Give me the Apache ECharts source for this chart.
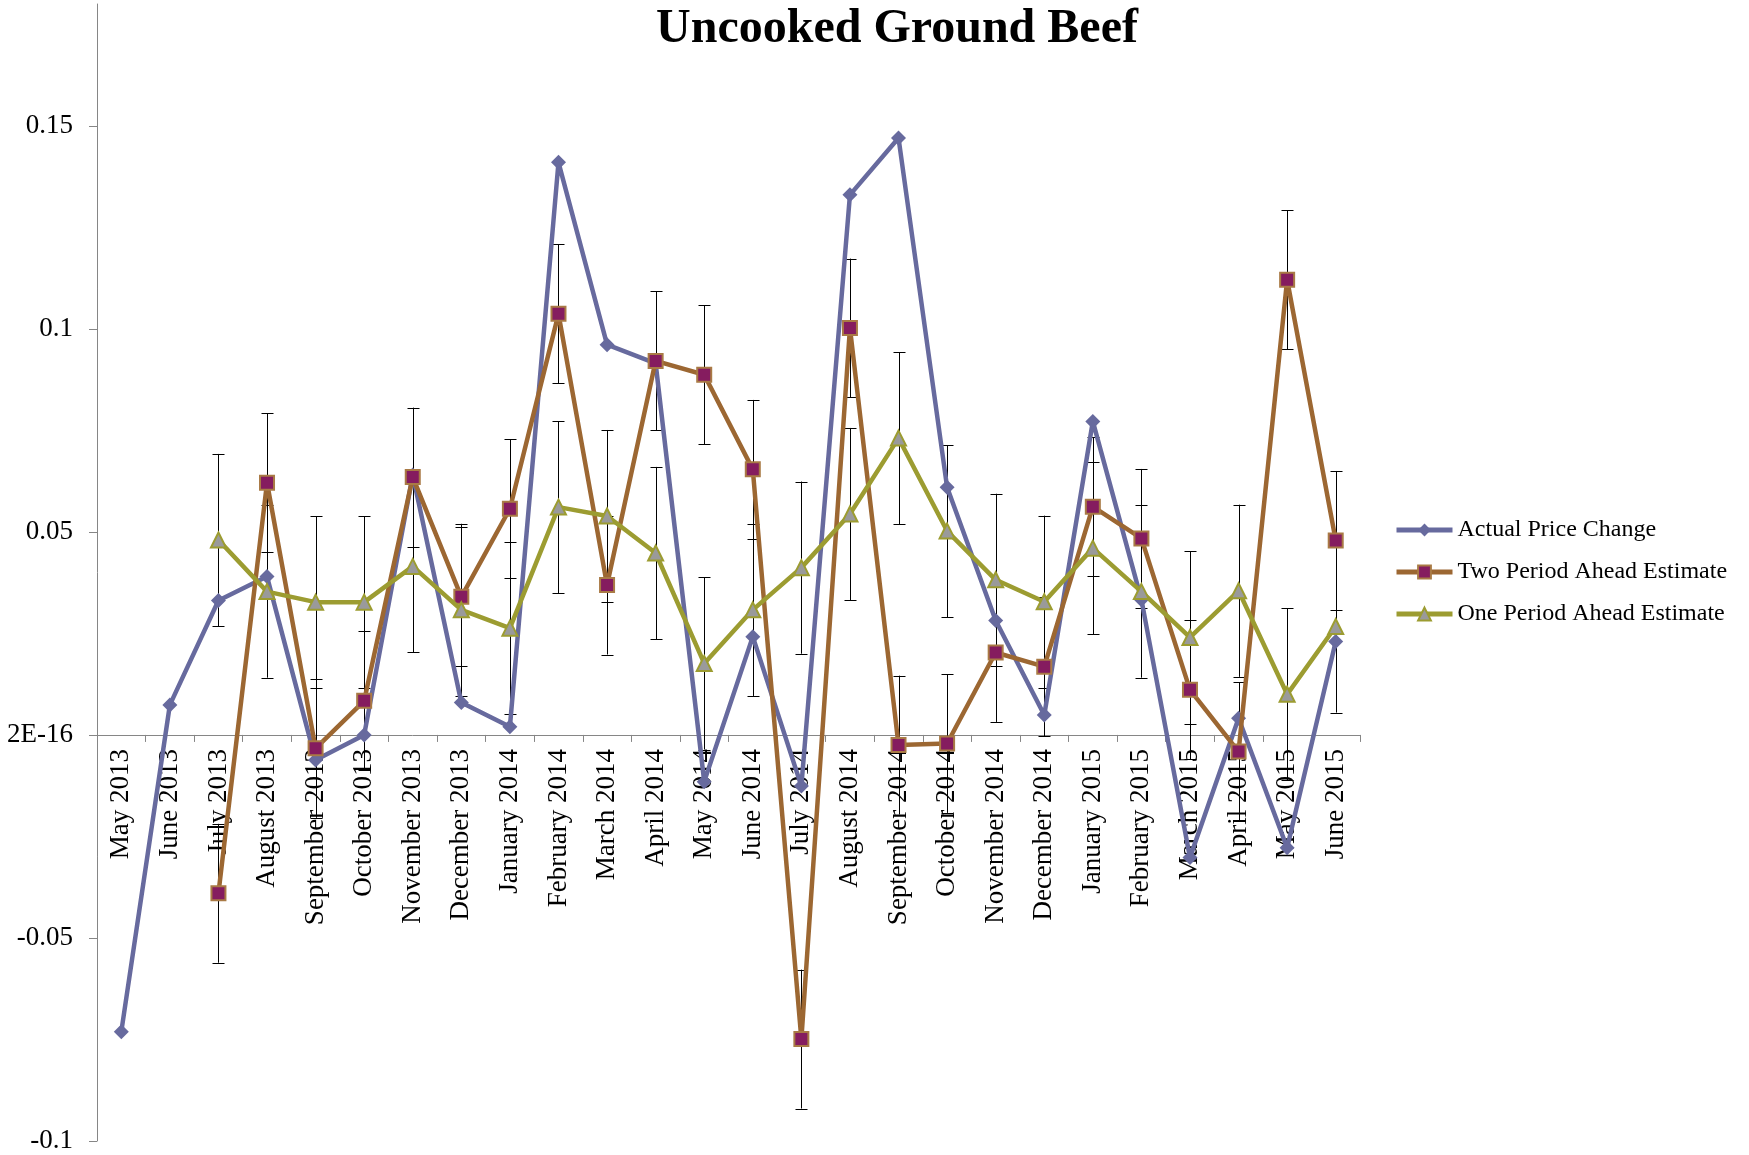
<!DOCTYPE html>
<html>
<head>
<meta charset="utf-8">
<script src="https://cdn.jsdelivr.net/npm/echarts@6/dist/echarts.min.js"></script>
<style>
  html, body { margin: 0; padding: 0; background: #fff; }
  #chart { width: 1749px; height: 1155px; }
</style>
</head>
<body>
<div id="chart"></div>
<script>
// ---- Data ----
const categories = [
  'May 2013','June 2013','July 2013','August 2013','September 2013','October 2013',
  'November 2013','December 2013','January 2014','February 2014','March 2014','April 2014',
  'May 2014','June 2014','July 2014','August 2014','September 2014','October 2014',
  'November 2014','December 2014','January 2015','February 2015','March 2015','April 2015',
  'May 2015','June 2015'
];

const actualPriceChange = [
  -0.0731, 0.0074, 0.0331, 0.0390, -0.0062, 0.0000,
  0.0640, 0.0080, 0.0020, 0.1410, 0.0961, 0.0915,
  -0.0115, 0.0242, -0.0126, 0.1330, 0.1470, 0.0610,
  0.0282, 0.0049, 0.0772, 0.0333, -0.0302, 0.0041,
  -0.0278, 0.0230
];

const twoPeriodAhead = [
  null, null, -0.0390, 0.0621, -0.0033, 0.0084,
  0.0635, 0.0340, 0.0557, 0.1037, 0.0369, 0.0921,
  0.0887, 0.0654, -0.0749, 0.1002, -0.0025, -0.0021,
  0.0203, 0.0168, 0.0562, 0.0484, 0.0111, -0.0041,
  0.1121, 0.0479
];

const onePeriodAhead = [
  null, null, 0.0480, 0.0353, 0.0327, 0.0327,
  0.0415, 0.0308, 0.0263, 0.0561, 0.0539, 0.0448,
  0.0176, 0.0308, 0.0412, 0.0544, 0.0731, 0.0502,
  0.0382, 0.0328, 0.0460, 0.0353, 0.0240, 0.0355,
  0.0100, 0.0267
];

// error bar half-widths (constant in the reference)
const twoPeriodError = 0.0171;
const onePeriodError = 0.0212;

const yTicks = [-0.1, -0.05, 0, 0.05, 0.1, 0.15];
const yMin = -0.1;
const yMax = 0.18;

// ---- Build chart ----
const FONT = "'Liberation Serif', 'Times New Roman', serif";
const W = 1749, H = 1155;
const gridTop = 4, gridBottom = 14;
const plotH = H - gridTop - gridBottom;
// place the category axis at value 0 (as in the reference)
const xAxisOffset = -((0 - yMin) / (yMax - yMin)) * plotH;

function errData(values, err) {
  const out = [];
  values.forEach((v, i) => {
    if (v !== null) out.push([i, v - err, v + err]);
  });
  return out;
}

function renderErr(params, api) {
  const lo = api.coord([api.value(0), api.value(1)]);
  const hi = api.coord([api.value(0), api.value(2)]);
  const x = Math.round(lo[0]) + 0.5;
  const hw = 6;
  const st = { stroke: '#000', lineWidth: 1 };
  return {
    type: 'group',
    children: [
      { type: 'line', shape: { x1: x, y1: lo[1], x2: x, y2: hi[1] }, style: st },
      { type: 'line', shape: { x1: x - hw, y1: Math.round(lo[1]) + 0.5, x2: x + hw, y2: Math.round(lo[1]) + 0.5 }, style: st },
      { type: 'line', shape: { x1: x - hw, y1: Math.round(hi[1]) + 0.5, x2: x + hw, y2: Math.round(hi[1]) + 0.5 }, style: st }
    ]
  };
}

const chart = echarts.init(document.getElementById('chart'), null, { renderer: 'canvas' });

chart.setOption({
  animation: false,
  backgroundColor: '#ffffff',
  title: {
    text: 'Uncooked Ground Beef',
    left: 897,
    textAlign: 'center',
    top: 6,
    padding: 0,
    textStyle: { fontFamily: FONT, fontSize: 48, fontWeight: 'bold', color: '#000' }
  },
  legend: {
    orient: 'vertical',
    left: 1389,
    top: 513,
    itemWidth: 56,
    itemHeight: 16,
    itemGap: 18,
    lineStyle: { width: 5 },
    data: ['Actual Price Change', 'Two Period Ahead Estimate', 'One Period Ahead Estimate'],
    textStyle: { fontFamily: FONT, fontSize: 24, color: '#000' }
  },
  grid: { left: 97, right: 389, top: gridTop, bottom: gridBottom, containLabel: false, outerBoundsMode: 'none' },
  xAxis: {
    type: 'category',
    data: categories,
    boundaryGap: true,
    position: 'bottom',
    offset: xAxisOffset,
    axisLine: { onZero: false, lineStyle: { color: '#868686', width: 1 } },
    axisTick: { show: true, length: 7, inside: false, lineStyle: { color: '#868686' } },
    axisLabel: {
      rotate: 90, interval: 0, margin: 14,
      fontFamily: FONT, fontSize: 27, color: '#000'
    },
    splitLine: { show: false }
  },
  yAxis: {
    type: 'value',
    min: yMin,
    max: yMax,
    interval: 0.05,
    axisLine: { show: true, lineStyle: { color: '#868686', width: 1 } },
    axisTick: { show: true, length: 8, lineStyle: { color: '#868686' }, customValues: yTicks },
    axisLabel: {
      margin: 24,
      fontFamily: FONT, fontSize: 27, color: '#000',
      customValues: yTicks,
      formatter: function (v) {
        if (Math.abs(v) < 1e-9) return '2E-16';
        return String(Math.round(v * 1000) / 1000);
      }
    },
    splitLine: { show: false }
  },
  series: [
    {
      name: 'err2', type: 'custom', z: 1, silent: true,
      renderItem: renderErr,
      encode: { x: 0, y: [1, 2] },
      data: errData(twoPeriodAhead, twoPeriodError)
    },
    {
      name: 'err1', type: 'custom', z: 1, silent: true,
      renderItem: renderErr,
      encode: { x: 0, y: [1, 2] },
      data: errData(onePeriodAhead, onePeriodError)
    },
    {
      name: 'Actual Price Change',
      type: 'line', z: 2,
      data: actualPriceChange,
      symbol: 'diamond',
      symbolSize: 15,
      showAllSymbol: true,
      lineStyle: { color: '#676a9e', width: 4.5 },
      itemStyle: { color: '#676a9e', borderWidth: 0 }
    },
    {
      name: 'Two Period Ahead Estimate',
      type: 'line', z: 3,
      data: twoPeriodAhead,
      symbol: 'rect',
      symbolSize: 14,
      showAllSymbol: true,
      lineStyle: { color: '#9c6732', width: 4.5 },
      itemStyle: { color: '#851c5f', borderColor: '#a97a45', borderWidth: 2 }
    },
    {
      name: 'One Period Ahead Estimate',
      type: 'line', z: 4,
      data: onePeriodAhead,
      symbol: 'triangle',
      symbolSize: 15,
      showAllSymbol: true,
      lineStyle: { color: '#9c9c31', width: 4.5 },
      itemStyle: { color: '#9a9a9a', borderColor: '#9c9c31', borderWidth: 2 }
    }
  ]
});
</script>
</body>
</html>
